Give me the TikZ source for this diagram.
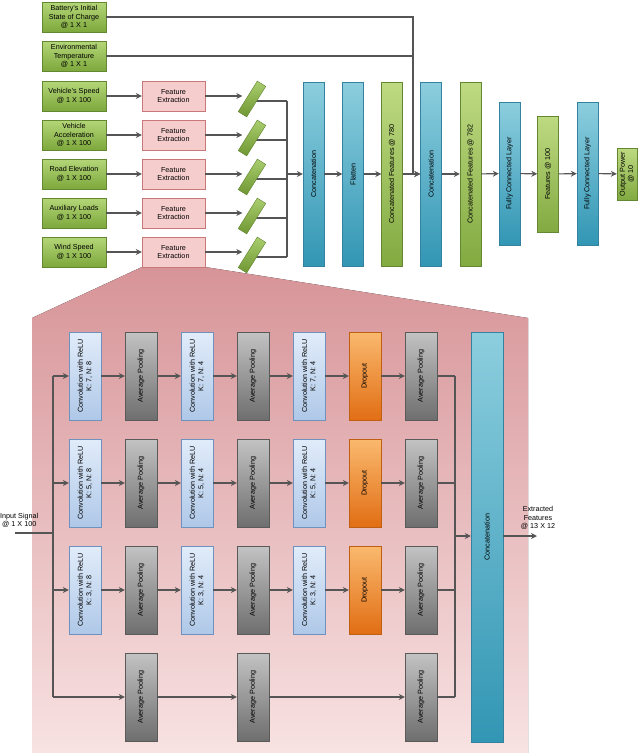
\documentclass[tikz,border=0pt]{standalone}
\usepackage{fontspec}
\setmainfont{Liberation Sans}
\usetikzlibrary{arrows.meta,backgrounds}
\definecolor{lnc}{RGB}{85,85,85}
\begin{document}
\begin{tikzpicture}[x=1pt,y=-1pt,
 base/.style={draw, inner sep=1pt, align=center, font=\fontsize{7.2}{8.3}\selectfont},
 gbox/.style={base, draw={rgb,255:red,100;green,135;blue,50}, top color={rgb,255:red,180;green,214;blue,120}, bottom color={rgb,255:red,125;green,168;blue,60}, minimum width=64, minimum height=30},
 fe/.style={base, draw={rgb,255:red,200;green,120;blue,120}, fill={rgb,255:red,246;green,205;blue,205}, minimum width=63, minimum height=30},
 par/.style={draw={rgb,255:red,95;green,130;blue,45}, top color={rgb,255:red,170;green,206;blue,110}, bottom color={rgb,255:red,110;green,150;blue,50}, minimum width=36, minimum height=10, inner sep=0, rotate=58},
 vb/.style={base, rotate=90, minimum height=21, minimum width=#1},
 blue/.style={draw={rgb,255:red,50;green,130;blue,160}, top color={rgb,255:red,140;green,206;blue,222}, bottom color={rgb,255:red,50;green,150;blue,180}},
 gv/.style={draw={rgb,255:red,100;green,135;blue,50}, top color={rgb,255:red,190;green,218;blue,130}, bottom color={rgb,255:red,130;green,170;blue,65}},
 sm/.style={base, rotate=90, minimum width=88, minimum height=32},
 conv/.style={sm, draw={rgb,255:red,110;green,145;blue,190}, top color={rgb,255:red,225;green,236;blue,250}, bottom color={rgb,255:red,175;green,200;blue,232}},
 pool/.style={sm, draw={rgb,255:red,90;green,90;blue,90}, top color={rgb,255:red,195;green,195;blue,195}, bottom color={rgb,255:red,110;green,110;blue,110}},
 drop/.style={sm, draw={rgb,255:red,190;green,95;blue,20}, top color={rgb,255:red,250;green,185;blue,110}, bottom color={rgb,255:red,225;green,110;blue,20}},
 ln/.style={draw=lnc, line width=1.1pt},
 arr/.style={ln, -{Stealth[length=6pt,width=6pt]}},
 lbl/.style={align=center, font=\fontsize{7.2}{8.3}\selectfont, inner sep=0}
]
\useasboundingbox (0,0) rectangle (640,753);
% top inputs
\node[gbox] (bat) at (74,17) {Battery's Initial\\State of Charge\\@ 1 X 1};
\node[gbox] (env) at (74,56) {Environmental\\Temperature\\@ 1 X 1};
\node[gbox] (i1) at (74,96) {Vehicle's Speed\\@ 1 X 100};
\node[gbox] (i2) at (74,135) {Vehicle\\Acceleration\\@ 1 X 100};
\node[gbox] (i3) at (74,174) {Road Elevation\\@ 1 X 100};
\node[gbox] (i4) at (74,213) {Auxiliary Loads\\@ 1 X 100};
\node[gbox] (i5) at (74,252) {Wind Speed\\@ 1 X 100};
\foreach \i/\y in {1/96,2/135,3/174,4/213,5/252}{
 \node[fe] (f\i) at (173.5,\y) {Feature\\Extraction};
 \node[par] (p\i) at (252,\y+3) {};
}
\coordinate (bt) at (287,101);
\coordinate (bb) at (287,257);
% bars
\node[vb=184, blue] (cA) at (313.5,174) {Concatenation};
\node[vb=184, blue] (fl) at (353,174) {Flatten};
\node[vb=184, gv] (cf1) at (392,174) {Concatenated Features @ 780};
\node[vb=184, blue] (cB) at (431,174) {Concatenation};
\node[vb=184, gv] (cf2) at (470.5,174) {Concatenated Features @ 782};
\node[vb=143, blue] (fc1) at (509.5,173.5) {Fully Connected Layer};
\node[vb=116, gv] (f100) at (548,174) {Features @ 100};
\node[vb=143, blue] (fc2) at (587.5,173.5) {Fully Connected Layer};
\node[vb=52, gv, minimum height=20] (out) at (627,174) {Output Power\\@ 10};
\coordinate (jx) at (413,174);
% lower
\coordinate (in) at (15,533);
\coordinate (lt) at (53,376);
\coordinate (lb) at (53,697);
\coordinate (rt) at (455,376);
\coordinate (rb) at (455,697);
\coordinate (rm) at (455,536);
\coordinate (ex) at (537,536);
\foreach \r/\y/\k in {1/376/7,2/483/5,3/590/3}{
 \node[conv] (ka\r) at (85,\y) {Convolution with ReLU\\K: \k, N: 8};
 \node[pool] (kb\r) at (141,\y) {Average Pooling};
 \node[conv] (kc\r) at (197,\y) {Convolution with ReLU\\K: \k, N: 4};
 \node[pool] (kd\r) at (253,\y) {Average Pooling};
 \node[conv] (ke\r) at (309,\y) {Convolution with ReLU\\K: \k, N: 4};
 \node[drop] (kg\r) at (365,\y) {Dropout};
 \node[pool] (kh\r) at (421,\y) {Average Pooling};
}
\node[pool] (kb4) at (141,697) {Average Pooling};
\node[pool] (kd4) at (253,697) {Average Pooling};
\node[pool] (kh4) at (421,697) {Average Pooling};
\node[base, rotate=90, minimum width=410, minimum height=32, blue] (cc) at (487,537) {Concatenation};
\node[lbl, anchor=south west] (inl) at (0,528) {Input Signal\\@ 1 X 100};
\node[lbl] (exl) at (538,518) {Extracted\\Features\\@ 13 X 12};
\begin{scope}[on background layer]
 \fill[top color={rgb,255:red,215;green,148;blue,152}, bottom color={rgb,255:red,248;green,226;blue,226}] (142,267) -- (205,267) -- (528,318) -- (528,753) -- (32,753) -- (32,318) -- cycle;
 \foreach \i in {1,...,5}{
  \draw[ln] ([yshift=-2pt]p\i.center) -- ([yshift=-2pt]p\i.center -| bt);
 }
\end{scope}
\foreach \i in {1,...,5}{
 \draw[arr] (i\i) -- (f\i);
 \draw[arr] (f\i) -- (f\i -| p\i.west);
}
\draw[ln] (bt) -- (bb);
\draw[arr] (bt |- cA) -- (cA);
\draw[arr] (cA) -- (fl);
\draw[arr] (fl) -- (cf1);
\draw[arr] (cf1) -- (cB);
\draw[arr] (cB) -- (cf2);
\draw[arr] (cf2) -- (fc1);
\draw[arr] (fc1) -- (f100);
\draw[arr] (f100) -- (fc2);
\draw[arr] (fc2) -- (out);
\draw[ln] (bat) -| (jx);
\draw[ln] (env) -- (env -| jx);
\draw[arr] (jx) -- (cB);
% lower connectors
\draw[ln] (in) -- (in -| lt);
\draw[ln] (lt) -- (lb);
\foreach \r in {1,2,3}{
 \draw[arr] (lt |- ka\r) -- (ka\r);
 \draw[arr] (ka\r) -- (kb\r);
 \draw[arr] (kb\r) -- (kc\r);
 \draw[arr] (kc\r) -- (kd\r);
 \draw[arr] (kd\r) -- (ke\r);
 \draw[arr] (ke\r) -- (kg\r);
 \draw[arr] (kg\r) -- (kh\r);
 \draw[ln] (kh\r) -- (kh\r -| rt);
}
\draw[arr] (lb) -- (kb4);
\draw[arr] (kb4) -- (kd4);
\draw[arr] (kd4) -- (kh4);
\draw[ln] (kh4) -- (rb);
\draw[ln] (rt) -- (rb);
\draw[arr] (rm) -- (rm -| cc.north);
\draw[arr] (rm -| cc.south) -- (ex);
\end{tikzpicture}
\end{document}
